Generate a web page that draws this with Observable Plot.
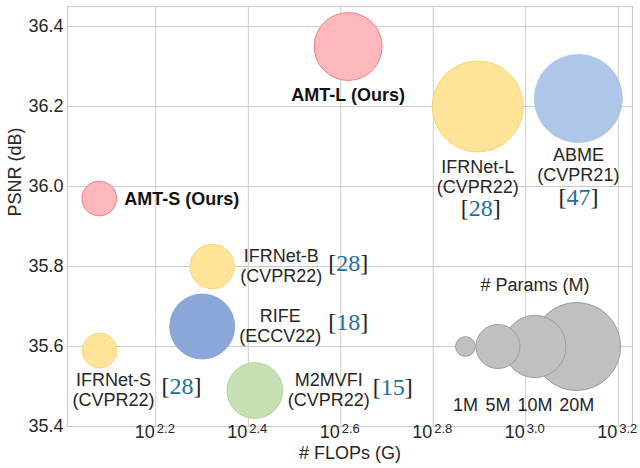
<!DOCTYPE html>
<html>
<head>
<meta charset="utf-8">
<script src="https://cdn.jsdelivr.net/npm/d3@7"></script>
<script src="https://cdn.jsdelivr.net/npm/@observablehq/plot@0.6"></script>
<style>
  html, body { margin: 0; padding: 0; background: #fff; }
  #chart { width: 640px; height: 468px; }
</style>
</head>
<body>
<div id="chart"></div>
<script>
// ---- data ----
const methods = ["AMT-S", "AMT-L", "IFRNet-S", "IFRNet-B", "IFRNet-L", "RIFE", "M2MVFI", "ABME"];
const venues  = ["Ours", "Ours", "CVPR22", "CVPR22", "CVPR22", "ECCV22", "CVPR22", "CVPR21"];
const refs    = [null, null, 28, 28, 28, 18, 15, 47];
const flops   = [119.6, 413, 119.8, 209.9, 787.6, 199.7, 259.5, 1300];   // G (log axis)
const psnr    = [35.97, 36.35, 35.59, 35.80, 36.20, 35.65, 35.49, 36.22]; // dB
const params  = [3.1, 11.9, 3.1, 5.1, 21.4, 10.9, 8.0, 20.0];            // M
const family  = ["AMT", "AMT", "IFRNet", "IFRNet", "IFRNet", "RIFE", "M2MVFI", "ABME"];

const legendParams = [1, 5, 10, 20];
const legendLabels = ["1M", "5M", "10M", "20M"];
const legendFlops  = [740.6, 871, 1047, 1289];
const legendPsnr   = 35.6;

const yTicks = [35.4, 35.6, 35.8, 36.0, 36.2, 36.4];
const xTickExps = [2.2, 2.4, 2.6, 2.8, 3.0, 3.2];

// ---- styles & layout (not data) ----
const fillBy = { AMT: "#ffb7bd", IFRNet: "#fee398", RIFE: "#8ba7da", M2MVFI: "#c6e0b4", ABME: "#aec6e7" };
const strokeBy = { AMT: "#f27f7f", IFRNet: "#f7d774", RIFE: "#8ba7da", M2MVFI: "#b3d49c", ABME: "#aec6e7" };
const labelLayout = {
  "AMT-S":    { dx: 25, dy: 0,  anchor: "start", bold: true },
  "AMT-L":    { dx: 0,  dy: 48, anchor: "middle", bold: true },
  "IFRNet-S": { dx: 14, dy: 39, anchor: "middle" },
  "IFRNet-B": { dx: 69, dy: -1, anchor: "middle" },
  "IFRNet-L": { dx: 0,  dy: 70, anchor: "middle" },
  "RIFE":     { dx: 78, dy: -1, anchor: "middle" },
  "M2MVFI":   { dx: 74, dy: -1, anchor: "middle" },
  "ABME":     { dx: 0,  dy: 66, anchor: "middle" }
};
const citeLayout = {
  "IFRNet-S": { dx: 82, dy: 36 },
  "IFRNet-B": { dx: 136, dy: -3 },
  "IFRNet-L": { dx: 3, dy: 102 },
  "RIFE":     { dx: 146, dy: -4 },
  "M2MVFI":   { dx: 138, dy: -3 },
  "ABME":     { dx: 0, dy: 99 }
};

const rows = methods.map((m, i) => ({
  method: m, venue: venues[i], ref: refs[i], flops: flops[i], psnr: psnr[i], params: params[i], family: family[i]
}));
const legendRows = legendParams.map((p, i) => ({ params: p, label: legendLabels[i], flops: legendFlops[i], psnr: legendPsnr }))
  .sort((a, b) => b.params - a.params);

const textColor = "#262626";
const serif = "Liberation Serif, DejaVu Serif, serif";

const labelMarks = rows.map(d => {
  const L = labelLayout[d.method];
  const txt = L.bold ? `${d.method} (${d.venue})` : `${d.method}\n(${d.venue})`;
  return Plot.text([d], {
    x: "flops", y: "psnr", text: () => txt,
    dx: L.dx, dy: L.dy, textAnchor: L.anchor,
    fontWeight: L.bold ? "bold" : "normal",
    fill: L.bold ? "#111" : textColor,
    fontSize: 18, lineHeight: 1.12
  });
});

const citeMarks = rows.filter(d => d.ref != null).map(d => {
  const C = citeLayout[d.method];
  return Plot.text([d], {
    x: "flops", y: "psnr", text: d => String(d.ref),
    dx: C.dx, dy: C.dy, textAnchor: "middle",
    fontFamily: serif, fontSize: 24, fill: "#222"
  });
});

const chart = Plot.plot({
  width: 640,
  height: 468,
  marginLeft: 67,
  marginRight: 8,
  marginTop: 6,
  marginBottom: 42,
  style: { fontFamily: "'Liberation Sans', Arial, sans-serif", fontSize: "18px", color: textColor, background: "#fff" },
  x: { type: "log", domain: [Math.pow(10, 2.009), Math.pow(10, 3.231)], axis: null },
  y: { domain: [35.4, 36.45], ticks: yTicks, tickFormat: d3.format(".1f"), tickSize: 0, tickPadding: 4, label: null },
  r: { type: "sqrt", domain: [0, 20], range: [0, 44] },
  marks: [
    Plot.gridY(yTicks, { stroke: "#cccccc", strokeOpacity: 1, strokeWidth: 1 }),
    Plot.gridX(xTickExps.map(e => Math.pow(10, e)), { stroke: "#cccccc", strokeOpacity: 1, strokeWidth: 1 }),
    Plot.frame({ stroke: "#cccccc", strokeWidth: 1.2 }),
    // x tick labels: 10^e
    Plot.text(xTickExps, { x: e => Math.pow(10, e), frameAnchor: "bottom", text: () => "10", textAnchor: "end", dx: -1, dy: 11, fill: textColor, fontSize: 18 }),
    Plot.text(xTickExps, { x: e => Math.pow(10, e), frameAnchor: "bottom", text: e => e.toFixed(1), textAnchor: "start", dx: 1, dy: 6, fill: textColor, fontSize: 13 }),
    // axis titles
    Plot.text(["# FLOPs (G)"], { frameAnchor: "bottom", text: d => d, dy: 32, fill: textColor, fontSize: 18 }),
    Plot.text(["PSNR (dB)"], { frameAnchor: "left", text: d => d, rotate: -90, dx: -52, fill: textColor, fontSize: 18 }),
    // bubbles
    Plot.dot(rows, {
      x: "flops", y: "psnr", r: "params",
      fill: d => fillBy[d.family], stroke: d => strokeBy[d.family], strokeWidth: 1
    }),
    // size legend
    Plot.dot(legendRows, { x: "flops", y: "psnr", r: "params", fill: "#c0c0c0", stroke: "#9c9c9c", strokeWidth: 1 }),
    Plot.text(legendRows, { x: "flops", y: "psnr", text: "label", dy: 59, fill: textColor, fontSize: 18 }),
    Plot.text(["# Params (M)"], { x: () => legendFlops[2], y: () => legendPsnr, text: d => d, dy: -61, fill: textColor, fontSize: 18 }),
    ...labelMarks,
    ...citeMarks
  ]
});

// colour the citation numbers inside black brackets
d3.select(chart).selectAll("text").each(function () {
  const fam = (this.getAttribute("font-family") || (this.parentNode && this.parentNode.getAttribute && this.parentNode.getAttribute("font-family")) || "");
  if (!fam.includes("Serif")) return;
  const num = this.textContent;
  if (!/^\d+$/.test(num)) return;
  const t = d3.select(this);
  t.text(null);
  t.append("tspan").attr("fill", "#222").text("[");
  t.append("tspan").attr("fill", "#1f6e9c").text(num);
  t.append("tspan").attr("fill", "#222").text("]");
});

document.getElementById("chart").appendChild(chart);
</script>
</body>
</html>
